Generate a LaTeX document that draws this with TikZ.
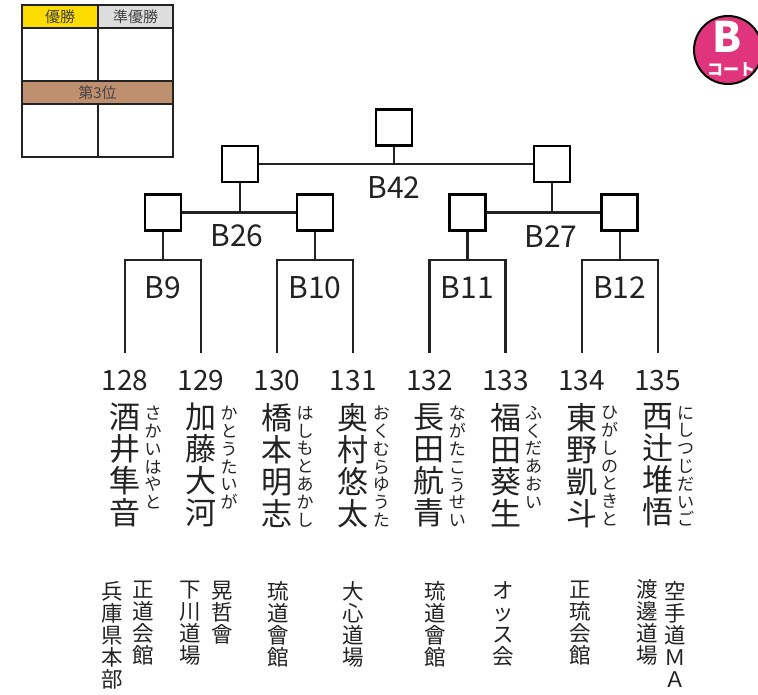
\documentclass[tikz,border=0pt]{standalone}
\usepackage{fontspec}
\setmainfont{Noto Sans CJK JP}
\usetikzlibrary{positioning}

\definecolor{winyellow}{HTML}{FFDC00}
\definecolor{secondgray}{HTML}{DDDDDD}
\definecolor{thirdbrown}{HTML}{BF9070}
\definecolor{courtpink}{HTML}{E0357C}
\definecolor{inkgray}{HTML}{222222}

\tikzset{
    matchbox/.style={
        draw=black, % 试合框
        line width=2.6pt,
        minimum size=36pt,
        inner sep=0
    },
    bracketline/.style={
        draw=inkgray,
        line width=2.2pt
    },
    tableline/.style={
        draw=inkgray,
        line width=2.7pt
    },
    legendtext/.style={
        text=inkgray!85,
        inner sep=0,
        font=\fontsize{15}{15}\selectfont
    },
    matchlabel/.style={
        text=inkgray,
        inner sep=0,
        font=\fontsize{30}{30}\selectfont
    },
    numlabel/.style={
        text=inkgray,
        inner sep=0,
        font=\fontsize{28}{28}\selectfont
    },
    namelabel/.style={
        text=inkgray,
        inner sep=0,
        anchor=north,
        align=center,
        font=\fontsize{31}{32}\selectfont
    },
    kanalabel/.style={
        text=inkgray,
        inner sep=0,
        anchor=north,
        align=center,
        font=\fontsize{17}{17.8}\selectfont
    },
    dojolabel/.style={
        text=inkgray,
        inner sep=0,
        anchor=north,
        align=center,
        font=\fontsize{21.5}{22}\selectfont
    },
    courtbadge/.style={
        circle,
        draw=black,
        fill=courtpink,
        line width=2pt,
        minimum size=68pt,
        inner sep=0
    }
}

\begin{document}
\begin{tikzpicture}[x=1pt, y=-1pt]
\useasboundingbox (0,0) rectangle (758,694);

% 表彰表
\fill[winyellow] (22,5) rectangle (98,28);
\fill[secondgray] (98,5) rectangle (173,28);
\fill[thirdbrown] (22,81) rectangle (173,104);
\draw[tableline] (22,5) rectangle (173,157);
\draw[tableline] (98,5) -- (98,81) (98,104) -- (98,157);
\draw[tableline] (22,28) -- (173,28) (22,81) -- (173,81) (22,104) -- (173,104);
\node[legendtext] (first) at (60,16.5) {優勝};
\node[legendtext] (second) at (135.5,16.5) {準優勝};
\node[legendtext] (third) at (97.5,92.5) {第3位};

% コート
\node[courtbadge] (court) at (728,50) {};
\node[text=white, inner sep=0, font=\bfseries\fontsize{42}{42}\selectfont] (courtB) at (727,37) {B};
\node[text=white, inner sep=0, font=\bfseries\fontsize{16}{16}\selectfont] (courtname) at (731,69) {コート};

% 試合
\node[matchbox] (w42) at (394,127.5) {};
\node[matchbox] (w26) at (240,164) {};
\node[matchbox] (w27) at (552,164) {};
\foreach \m/\x in {9/163, 10/315, 11/467.5, 12/619.7}
    \node[matchbox] (w\m) at (\x,212.5) {};

\draw[bracketline] (w26.east) -- (w27.west);
\draw[bracketline] (w42.south) -- (w42.south |- w26.east);
\draw[bracketline] (w9.east) -- (w10.west);
\draw[bracketline] (w26.south) -- (w26.south |- w9.east);
\draw[bracketline] (w11.east) -- (w12.west);
\draw[bracketline] (w27.south) -- (w27.south |- w11.east);

\node[matchlabel] (l42) at (394,187) {B42};
\node[matchlabel] (l26) at (237,236) {B26};
\node[matchlabel] (l27) at (551,236) {B27};

% 選手
\foreach \num/\name/\kana [count=\k from 0] in {
    128/{酒\\井\\隼\\音}/{さ\\か\\い\\は\\や\\と},
    129/{加\\藤\\大\\河}/{か\\と\\う\\た\\い\\が},
    130/{橋\\本\\明\\志}/{は\\し\\も\\と\\あ\\か\\し},
    131/{奥\\村\\悠\\太}/{お\\く\\む\\ら\\ゆ\\う\\た},
    132/{長\\田\\航\\青}/{な\\が\\た\\こ\\う\\せ\\い},
    133/{福\\田\\葵\\生}/{ふ\\く\\だ\\あ\\お\\い},
    134/{東\\野\\凱\\斗}/{ひ\\が\\し\\の\\と\\き\\と},
    135/{西\\辻\\堆\\悟}/{に\\し\\つ\\じ\\だ\\い\\ご}}
{
    \pgfmathsetmacro\px{125+76.1*\k}
    \node[numlabel] (p\num) at (\px,380.5) {\num};
    \coordinate (t\num) at (\px,353);
    \node[namelabel] (n\num) at (\px,403) {\name};
    \node[kanalabel] (k\num) at (\px+28,406) {\kana};
}

\foreach \m/\a/\b in {9/128/129, 10/130/131, 11/132/133, 12/134/135}
{
    \coordinate (b\m) at (w\m.south |- 0,260);
    \draw[bracketline] (t\a) |- (b\m) -| (t\b);
    \draw[bracketline] (w\m.south) -- (b\m);
    \node[matchlabel] (l\m) at (w\m.south |- 0,287.5) {B\m};
}

% 所属
\node[dojolabel] (d128a) at (143,581) {正\\道\\会\\館};
\node[dojolabel] (d128b) at (112,581) {兵\\庫\\県\\本\\部};
\node[dojolabel] (d129a) at (222,581) {晃\\哲\\會};
\node[dojolabel] (d129b) at (190,581) {下\\川\\道\\場};
\node[dojolabel] (d130) at (278,581) {琉\\道\\會\\館};
\node[dojolabel] (d131) at (353,581) {大\\心\\道\\場};
\node[dojolabel] (d132) at (435,581) {琉\\道\\會\\館};
\node[dojolabel] (d133) at (503,581) {オ\\ッ\\ス\\会};
\node[dojolabel] (d134) at (580,581) {正\\琉\\会\\館};
\node[dojolabel] (d135a) at (675,581) {空\\手\\道\\Ｍ\\Ａ};
\node[dojolabel] (d135b) at (647,579) {渡\\邊\\道\\場};

\end{tikzpicture}
\end{document}
